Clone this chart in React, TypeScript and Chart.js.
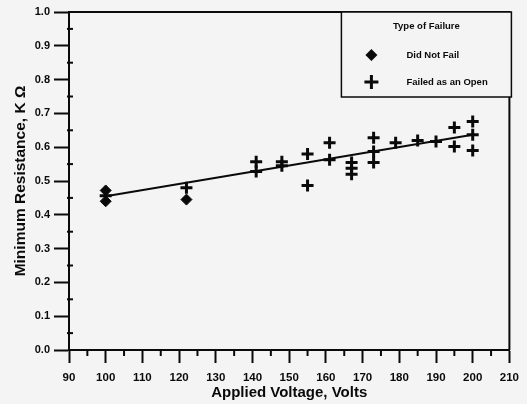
import React, { useEffect, useRef } from "react";
import { Chart, registerables } from "chart.js";

Chart.register(...registerables);

// Data
const didNotFailX = [100, 100, 122];
const didNotFailY = [0.472, 0.44, 0.445];

const failedOpenX = [100, 122, 141, 141, 148, 148, 155, 155, 161, 161, 167, 167, 167, 173, 173, 173, 179, 185, 190, 195, 195, 200, 200, 200];
const failedOpenY = [0.456, 0.48, 0.557, 0.528, 0.557, 0.545, 0.58, 0.487, 0.613, 0.563, 0.555, 0.538, 0.52, 0.628, 0.587, 0.555, 0.613, 0.62, 0.617, 0.658, 0.602, 0.676, 0.637, 0.59];

const fitX = [100, 200];
const fitY = [0.455, 0.637];

const xMinorTicks = [95, 105, 115, 125, 135, 145, 155, 165, 175, 185, 195, 205];
const yMinorTicks = [0.05, 0.15, 0.25, 0.35, 0.45, 0.55, 0.65, 0.75, 0.85, 0.95];

const legendTitle = "Type of Failure";
const seriesNames = ["Did Not Fail", "Failed as an Open"];
const xTitle = "Applied Voltage, Volts";
const yTitle = "Minimum Resistance, K \u03A9";

const FONT = "'Liberation Sans', Arial, sans-serif";
const INK = "#0a0a0a";

function zip(xs: number[], ys: number[]) {
  return xs.map((x, i) => ({ x, y: ys[i] }));
}

const framePlugin = {
  id: "framePlugin",
  afterDraw(chart: any) {
    const ctx = chart.ctx;
    const { left, right, top, bottom } = chart.chartArea;
    const xs = chart.scales.x;
    const ys = chart.scales.y;
    ctx.save();
    ctx.strokeStyle = INK;
    ctx.lineWidth = 2;
    // top and right frame
    ctx.beginPath();
    ctx.moveTo(left, top);
    ctx.lineTo(right, top);
    ctx.lineTo(right, bottom);
    ctx.stroke();
    // minor ticks
    xMinorTicks.forEach((v) => {
      const px = xs.getPixelForValue(v);
      ctx.beginPath();
      ctx.moveTo(px, bottom);
      ctx.lineTo(px, bottom + 6);
      ctx.stroke();
    });
    yMinorTicks.forEach((v) => {
      const py = ys.getPixelForValue(v);
      ctx.beginPath();
      ctx.moveTo(left - 2, py);
      ctx.lineTo(left + 4, py);
      ctx.stroke();
    });

    // legend box
    const bx = right - 168;
    const by = top;
    const bw = 170;
    const bh = 85;
    ctx.lineWidth = 1.5;
    ctx.fillStyle = "#f4f4f4";
    ctx.fillRect(bx, by, bw, bh);
    ctx.strokeRect(bx, by, bw, bh);
    ctx.fillStyle = INK;
    ctx.font = `bold 9.5px ${FONT}`;
    ctx.textBaseline = "middle";
    ctx.textAlign = "center";
    ctx.fillText(legendTitle, bx + 85, by + 14);
    ctx.textAlign = "left";
    // diamond
    const sx = bx + 30;
    const y1 = by + 43;
    ctx.beginPath();
    ctx.moveTo(sx, y1 - 6);
    ctx.lineTo(sx + 6, y1);
    ctx.lineTo(sx, y1 + 6);
    ctx.lineTo(sx - 6, y1);
    ctx.closePath();
    ctx.fill();
    ctx.fillText(seriesNames[0], bx + 65, y1);
    // plus
    const y2 = by + 70;
    ctx.lineWidth = 3;
    ctx.beginPath();
    ctx.moveTo(sx - 7, y2);
    ctx.lineTo(sx + 7, y2);
    ctx.moveTo(sx, y2 - 7);
    ctx.lineTo(sx, y2 + 7);
    ctx.stroke();
    ctx.fillText(seriesNames[1], bx + 65, y2);
    ctx.restore();
  },
};

export default function App() {
  const ref = useRef<HTMLCanvasElement | null>(null);

  useEffect(() => {
    if (!ref.current) return;
    const chart = new Chart(ref.current, {
      type: "scatter",
      data: {
        datasets: [
          {
            label: "fit",
            data: zip(fitX, fitY),
            showLine: true,
            borderColor: INK,
            borderWidth: 2,
            pointRadius: 0,
            fill: false,
          } as any,
          {
            label: seriesNames[0],
            data: zip(didNotFailX, didNotFailY),
            pointStyle: "rectRot",
            pointRadius: 5.5,
            backgroundColor: INK,
            borderColor: INK,
            borderWidth: 1,
          },
          {
            label: seriesNames[1],
            data: zip(failedOpenX, failedOpenY),
            pointStyle: "cross",
            pointRadius: 6,
            backgroundColor: INK,
            borderColor: INK,
            borderWidth: 3,
          },
        ],
      },
      options: {
        animation: false,
        responsive: true,
        maintainAspectRatio: false,
        layout: { padding: { top: 12, right: 16, left: 0, bottom: 0 } },
        plugins: {
          legend: { display: false },
          tooltip: { enabled: false },
        },
        scales: {
          x: {
            type: "linear",
            min: 90,
            max: 210,
            afterFit: (s: any) => {
              s.height = 54;
            },
            ticks: {
              stepSize: 10,
              color: INK,
              padding: 8,
              font: { family: FONT, size: 11.5, weight: "bold" },
            },
            grid: {
              display: true,
              drawOnChartArea: false,
              drawTicks: true,
              tickLength: 13,
              tickWidth: 2,
              tickColor: INK,
            },
            border: { color: INK, width: 2 },
            title: {
              display: true,
              text: xTitle,
              color: INK,
              font: { family: FONT, size: 15, weight: "bold" },
              padding: { top: 0, bottom: 2 },
            },
          },
          y: {
            type: "linear",
            min: 0,
            max: 1,
            afterFit: (s: any) => {
              s.width = 69;
            },
            ticks: {
              stepSize: 0.1,
              color: INK,
              padding: 4,
              font: { family: FONT, size: 11, weight: "bold" },
              callback: (v: any) => Number(v).toFixed(1),
            },
            grid: {
              display: true,
              drawOnChartArea: false,
              drawTicks: true,
              tickLength: 15,
              tickWidth: 2,
              tickColor: INK,
            },
            border: { color: INK, width: 2 },
            title: {
              display: true,
              text: yTitle,
              color: INK,
              font: { family: FONT, size: 15.5, weight: "bold" },
              padding: { top: 11, bottom: 0 },
            },
          },
        },
      },
      plugins: [framePlugin],
    });
    return () => chart.destroy();
  }, []);

  return (
    <div
      style={{
        position: "absolute",
        left: 0,
        top: 0,
        width: 527,
        height: 404,
        background: "#f4f4f4",
      }}
    >
      <canvas ref={ref} />
    </div>
  );
}
